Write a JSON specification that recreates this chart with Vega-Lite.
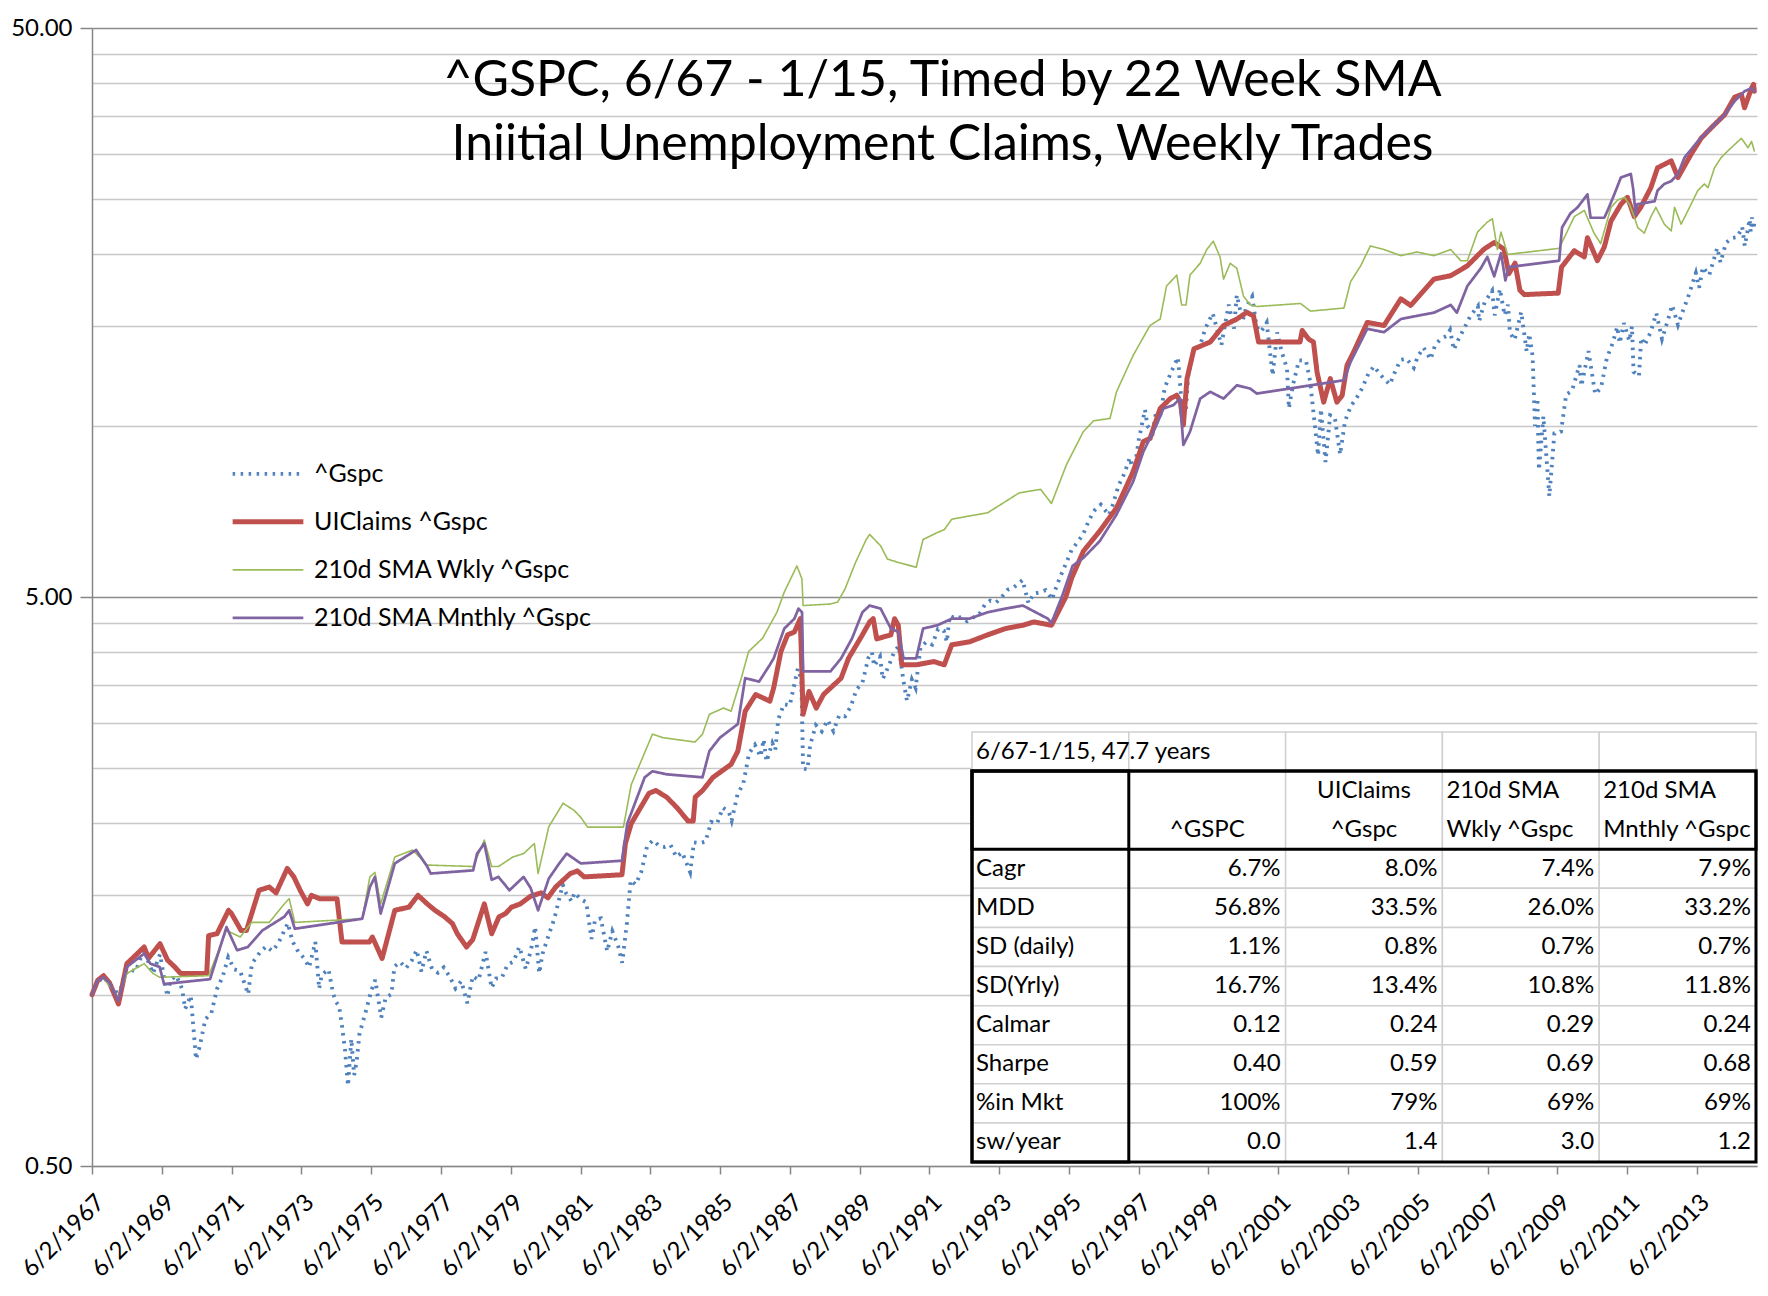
{
"$schema": "https://vega.github.io/schema/vega-lite/v6.json",
"width": 1665, "height": 1138,
"autosize": {"type": "none"},
"padding": {"left": 92, "top": 28, "right": 11, "bottom": 130},
"background": "white",
"config": {"view": {"stroke": null}, "font": "Lato"},
"title": {"text": ["^GSPC, 6/67 - 1/15, Timed by  22 Week SMA", "Iniitial Unemployment Claims, Weekly Trades"], "font": "Lato", "fontSize": 50, "fontWeight": "normal", "color": "#000000", "anchor": "middle", "frame": "group", "offset": -154, "dx": 18, "lineHeight": 64},
"datasets": {
"lines": [
{"s":"^Gspc","d":"1967-06-02","v":1.0},{"s":"^Gspc","d":"1967-08-01","v":1.053},{"s":"^Gspc","d":"1967-10-01","v":1.074},{"s":"^Gspc","d":"1967-12-01","v":1.044},{"s":"^Gspc","d":"1968-02-01","v":1.024},{"s":"^Gspc","d":"1968-03-05","v":0.974},{"s":"^Gspc","d":"1968-05-01","v":1.083},{"s":"^Gspc","d":"1968-07-01","v":1.107},{"s":"^Gspc","d":"1968-09-01","v":1.099},{"s":"^Gspc","d":"1968-11-29","v":1.204},
{"s":"^Gspc","d":"1969-01-02","v":1.154},{"s":"^Gspc","d":"1969-03-01","v":1.09},{"s":"^Gspc","d":"1969-05-14","v":1.178},{"s":"^Gspc","d":"1969-07-29","v":0.994},{"s":"^Gspc","d":"1969-09-01","v":1.061},{"s":"^Gspc","d":"1969-11-01","v":1.08},{"s":"^Gspc","d":"1970-01-01","v":1.023},{"s":"^Gspc","d":"1970-02-01","v":0.944},{"s":"^Gspc","d":"1970-04-01","v":0.996},{"s":"^Gspc","d":"1970-05-26","v":0.77},
{"s":"^Gspc","d":"1970-07-01","v":0.808},{"s":"^Gspc","d":"1970-09-01","v":0.906},{"s":"^Gspc","d":"1970-11-01","v":0.926},{"s":"^Gspc","d":"1971-01-01","v":1.024},{"s":"^Gspc","d":"1971-03-01","v":1.076},{"s":"^Gspc","d":"1971-04-28","v":1.164},{"s":"^Gspc","d":"1971-07-01","v":1.108},{"s":"^Gspc","d":"1971-09-01","v":1.1},{"s":"^Gspc","d":"1971-11-23","v":1.002},{"s":"^Gspc","d":"1972-01-01","v":1.134},
{"s":"^Gspc","d":"1972-04-01","v":1.191},{"s":"^Gspc","d":"1972-06-01","v":1.217},{"s":"^Gspc","d":"1972-08-01","v":1.193},{"s":"^Gspc","d":"1972-10-01","v":1.229},{"s":"^Gspc","d":"1973-01-11","v":1.336},{"s":"^Gspc","d":"1973-03-01","v":1.241},{"s":"^Gspc","d":"1973-05-01","v":1.189},{"s":"^Gspc","d":"1973-07-01","v":1.159},{"s":"^Gspc","d":"1973-08-22","v":1.117},{"s":"^Gspc","d":"1973-10-26","v":1.238},
{"s":"^Gspc","d":"1973-12-05","v":1.024},{"s":"^Gspc","d":"1974-01-01","v":1.084},{"s":"^Gspc","d":"1974-03-13","v":1.108},{"s":"^Gspc","d":"1974-05-01","v":1.003},{"s":"^Gspc","d":"1974-06-01","v":0.97},{"s":"^Gspc","d":"1974-07-01","v":0.956},{"s":"^Gspc","d":"1974-08-01","v":0.881},{"s":"^Gspc","d":"1974-09-01","v":0.802},{"s":"^Gspc","d":"1974-10-03","v":0.692},{"s":"^Gspc","d":"1974-11-07","v":0.836},
{"s":"^Gspc","d":"1974-12-06","v":0.722},{"s":"^Gspc","d":"1975-01-01","v":0.762},{"s":"^Gspc","d":"1975-02-01","v":0.856},{"s":"^Gspc","d":"1975-04-01","v":0.926},{"s":"^Gspc","d":"1975-06-01","v":1.013},{"s":"^Gspc","d":"1975-07-15","v":1.062},{"s":"^Gspc","d":"1975-09-16","v":0.912},{"s":"^Gspc","d":"1975-11-01","v":0.989},{"s":"^Gspc","d":"1976-01-01","v":1.002},{"s":"^Gspc","d":"1976-02-01","v":1.121},
{"s":"^Gspc","d":"1976-04-01","v":1.142},{"s":"^Gspc","d":"1976-06-01","v":1.113},{"s":"^Gspc","d":"1976-08-01","v":1.149},{"s":"^Gspc","d":"1976-09-21","v":1.198},{"s":"^Gspc","d":"1976-11-10","v":1.098},{"s":"^Gspc","d":"1977-01-01","v":1.194},{"s":"^Gspc","d":"1977-03-01","v":1.109},{"s":"^Gspc","d":"1977-05-01","v":1.093},{"s":"^Gspc","d":"1977-07-01","v":1.117},{"s":"^Gspc","d":"1977-09-01","v":1.076},
{"s":"^Gspc","d":"1977-11-01","v":1.026},{"s":"^Gspc","d":"1978-01-01","v":1.057},{"s":"^Gspc","d":"1978-03-06","v":0.966},{"s":"^Gspc","d":"1978-05-01","v":1.078},{"s":"^Gspc","d":"1978-07-01","v":1.061},{"s":"^Gspc","d":"1978-09-12","v":1.189},{"s":"^Gspc","d":"1978-11-14","v":1.028},{"s":"^Gspc","d":"1979-01-01","v":1.068},{"s":"^Gspc","d":"1979-03-01","v":1.07},{"s":"^Gspc","d":"1979-05-01","v":1.131},
{"s":"^Gspc","d":"1979-07-01","v":1.143},{"s":"^Gspc","d":"1979-09-01","v":1.214},{"s":"^Gspc","d":"1979-11-07","v":1.11},{"s":"^Gspc","d":"1980-01-01","v":1.199},{"s":"^Gspc","d":"1980-02-13","v":1.316},{"s":"^Gspc","d":"1980-03-27","v":1.091},{"s":"^Gspc","d":"1980-05-01","v":1.181},{"s":"^Gspc","d":"1980-07-01","v":1.269},{"s":"^Gspc","d":"1980-09-01","v":1.36},{"s":"^Gspc","d":"1980-11-28","v":1.561},
{"s":"^Gspc","d":"1981-01-01","v":1.509},{"s":"^Gspc","d":"1981-03-01","v":1.459},{"s":"^Gspc","d":"1981-04-01","v":1.511},{"s":"^Gspc","d":"1981-06-01","v":1.473},{"s":"^Gspc","d":"1981-08-01","v":1.454},{"s":"^Gspc","d":"1981-09-25","v":1.253},{"s":"^Gspc","d":"1981-11-01","v":1.354},{"s":"^Gspc","d":"1982-01-01","v":1.362},{"s":"^Gspc","d":"1982-03-08","v":1.192},{"s":"^Gspc","d":"1982-05-01","v":1.293},
{"s":"^Gspc","d":"1982-07-01","v":1.218},{"s":"^Gspc","d":"1982-08-12","v":1.138},{"s":"^Gspc","d":"1982-10-01","v":1.338},{"s":"^Gspc","d":"1982-11-09","v":1.589},{"s":"^Gspc","d":"1983-01-01","v":1.562},{"s":"^Gspc","d":"1983-03-01","v":1.646},{"s":"^Gspc","d":"1983-05-01","v":1.827},{"s":"^Gspc","d":"1983-07-01","v":1.868},{"s":"^Gspc","d":"1983-09-01","v":1.827},{"s":"^Gspc","d":"1983-11-01","v":1.818},
{"s":"^Gspc","d":"1984-01-01","v":1.832},{"s":"^Gspc","d":"1984-03-01","v":1.746},{"s":"^Gspc","d":"1984-05-01","v":1.779},{"s":"^Gspc","d":"1984-07-24","v":1.642},{"s":"^Gspc","d":"1984-09-01","v":1.852},{"s":"^Gspc","d":"1984-11-01","v":1.846},{"s":"^Gspc","d":"1985-01-01","v":1.858},{"s":"^Gspc","d":"1985-03-01","v":2.013},{"s":"^Gspc","d":"1985-05-01","v":1.998},{"s":"^Gspc","d":"1985-07-01","v":2.132},
{"s":"^Gspc","d":"1985-09-01","v":2.096},{"s":"^Gspc","d":"1985-10-01","v":2.023},{"s":"^Gspc","d":"1985-12-01","v":2.247},{"s":"^Gspc","d":"1986-02-01","v":2.353},{"s":"^Gspc","d":"1986-04-01","v":2.654},{"s":"^Gspc","d":"1986-06-01","v":2.749},{"s":"^Gspc","d":"1986-07-31","v":2.623},{"s":"^Gspc","d":"1986-09-01","v":2.81},{"s":"^Gspc","d":"1986-10-01","v":2.57},{"s":"^Gspc","d":"1986-12-01","v":2.769},
{"s":"^Gspc","d":"1987-01-01","v":2.691},{"s":"^Gspc","d":"1987-02-01","v":3.046},{"s":"^Gspc","d":"1987-04-01","v":3.241},{"s":"^Gspc","d":"1987-06-01","v":3.223},{"s":"^Gspc","d":"1987-08-25","v":3.742},{"s":"^Gspc","d":"1987-10-01","v":3.576},{"s":"^Gspc","d":"1987-10-19","v":2.498},{"s":"^Gspc","d":"1987-12-04","v":2.488},{"s":"^Gspc","d":"1988-01-01","v":2.746},{"s":"^Gspc","d":"1988-03-01","v":2.976},
{"s":"^Gspc","d":"1988-05-01","v":2.903},{"s":"^Gspc","d":"1988-07-01","v":3.039},{"s":"^Gspc","d":"1988-09-01","v":2.906},{"s":"^Gspc","d":"1988-11-01","v":3.1},{"s":"^Gspc","d":"1989-01-01","v":3.086},{"s":"^Gspc","d":"1989-03-01","v":3.21},{"s":"^Gspc","d":"1989-05-01","v":3.44},{"s":"^Gspc","d":"1989-07-01","v":3.533},{"s":"^Gspc","d":"1989-09-01","v":3.906},{"s":"^Gspc","d":"1989-10-09","v":3.998},
{"s":"^Gspc","d":"1989-11-01","v":3.782},{"s":"^Gspc","d":"1990-01-01","v":3.927},{"s":"^Gspc","d":"1990-01-30","v":3.589},{"s":"^Gspc","d":"1990-04-01","v":3.777},{"s":"^Gspc","d":"1990-06-01","v":4.013},{"s":"^Gspc","d":"1990-07-16","v":4.099},{"s":"^Gspc","d":"1990-09-01","v":3.584},{"s":"^Gspc","d":"1990-10-11","v":3.283},{"s":"^Gspc","d":"1990-12-01","v":3.58},{"s":"^Gspc","d":"1991-01-09","v":3.461},
{"s":"^Gspc","d":"1991-03-01","v":4.079},{"s":"^Gspc","d":"1991-05-01","v":4.17},{"s":"^Gspc","d":"1991-07-01","v":4.124},{"s":"^Gspc","d":"1991-09-01","v":4.393},{"s":"^Gspc","d":"1991-11-01","v":4.361},{"s":"^Gspc","d":"1991-12-02","v":4.169},{"s":"^Gspc","d":"1992-01-01","v":4.634},{"s":"^Gspc","d":"1992-03-01","v":4.586},{"s":"^Gspc","d":"1992-05-01","v":4.611},{"s":"^Gspc","d":"1992-07-01","v":4.534},
{"s":"^Gspc","d":"1992-09-01","v":4.6},{"s":"^Gspc","d":"1992-11-01","v":4.652},{"s":"^Gspc","d":"1993-01-01","v":4.841},{"s":"^Gspc","d":"1993-03-01","v":4.927},{"s":"^Gspc","d":"1993-05-01","v":4.891},{"s":"^Gspc","d":"1993-07-01","v":5.006},{"s":"^Gspc","d":"1993-09-01","v":5.151},{"s":"^Gspc","d":"1993-11-01","v":5.198},{"s":"^Gspc","d":"1994-02-02","v":5.356},{"s":"^Gspc","d":"1994-04-04","v":4.877},
{"s":"^Gspc","d":"1994-06-01","v":5.072},{"s":"^Gspc","d":"1994-08-01","v":5.092},{"s":"^Gspc","d":"1994-10-01","v":5.141},{"s":"^Gspc","d":"1994-12-08","v":4.95},{"s":"^Gspc","d":"1995-01-01","v":5.103},{"s":"^Gspc","d":"1995-03-01","v":5.416},{"s":"^Gspc","d":"1995-05-01","v":5.719},{"s":"^Gspc","d":"1995-07-01","v":6.053},{"s":"^Gspc","d":"1995-09-01","v":6.243},{"s":"^Gspc","d":"1995-11-01","v":6.461},
{"s":"^Gspc","d":"1996-01-01","v":6.843},{"s":"^Gspc","d":"1996-03-01","v":7.116},{"s":"^Gspc","d":"1996-05-01","v":7.269},{"s":"^Gspc","d":"1996-07-24","v":6.963},{"s":"^Gspc","d":"1996-09-01","v":7.244},{"s":"^Gspc","d":"1996-11-01","v":7.837},{"s":"^Gspc","d":"1997-01-01","v":8.23},{"s":"^Gspc","d":"1997-03-01","v":8.787},{"s":"^Gspc","d":"1997-04-11","v":8.197},{"s":"^Gspc","d":"1997-06-01","v":9.426},
{"s":"^Gspc","d":"1997-08-06","v":10.67},{"s":"^Gspc","d":"1997-09-01","v":9.994},{"s":"^Gspc","d":"1997-10-27","v":9.744},{"s":"^Gspc","d":"1997-12-01","v":10.616},{"s":"^Gspc","d":"1998-01-09","v":10.308},{"s":"^Gspc","d":"1998-03-01","v":11.659},{"s":"^Gspc","d":"1998-05-01","v":12.353},{"s":"^Gspc","d":"1998-07-17","v":13.186},{"s":"^Gspc","d":"1998-08-31","v":10.637},{"s":"^Gspc","d":"1998-10-08","v":10.66},
{"s":"^Gspc","d":"1998-11-01","v":12.208},{"s":"^Gspc","d":"1999-01-01","v":13.658},{"s":"^Gspc","d":"1999-03-01","v":13.759},{"s":"^Gspc","d":"1999-05-01","v":14.836},{"s":"^Gspc","d":"1999-07-16","v":15.764},{"s":"^Gspc","d":"1999-10-15","v":13.86},{"s":"^Gspc","d":"1999-12-31","v":16.325},{"s":"^Gspc","d":"2000-02-25","v":14.816},{"s":"^Gspc","d":"2000-03-24","v":16.972},{"s":"^Gspc","d":"2000-05-24","v":15.266},
{"s":"^Gspc","d":"2000-07-01","v":16.162},{"s":"^Gspc","d":"2000-09-01","v":16.863},{"s":"^Gspc","d":"2000-10-18","v":14.912},{"s":"^Gspc","d":"2000-12-01","v":14.613},{"s":"^Gspc","d":"2001-01-31","v":15.178},{"s":"^Gspc","d":"2001-04-04","v":12.259},{"s":"^Gspc","d":"2001-05-21","v":14.587},{"s":"^Gspc","d":"2001-07-01","v":13.604},{"s":"^Gspc","d":"2001-09-01","v":12.596},{"s":"^Gspc","d":"2001-09-21","v":10.731},
{"s":"^Gspc","d":"2001-11-01","v":11.776},{"s":"^Gspc","d":"2002-01-04","v":13.028},{"s":"^Gspc","d":"2002-03-19","v":13.003},{"s":"^Gspc","d":"2002-05-01","v":11.966},{"s":"^Gspc","d":"2002-07-23","v":8.863},{"s":"^Gspc","d":"2002-08-22","v":10.697},{"s":"^Gspc","d":"2002-10-09","v":8.631},{"s":"^Gspc","d":"2002-11-27","v":10.432},{"s":"^Gspc","d":"2003-01-14","v":10.352},{"s":"^Gspc","d":"2003-03-11","v":8.897},
{"s":"^Gspc","d":"2003-05-01","v":10.188},{"s":"^Gspc","d":"2003-07-01","v":10.828},{"s":"^Gspc","d":"2003-09-01","v":11.2},{"s":"^Gspc","d":"2003-11-01","v":11.674},{"s":"^Gspc","d":"2004-01-01","v":12.354},{"s":"^Gspc","d":"2004-03-01","v":12.721},{"s":"^Gspc","d":"2004-05-01","v":12.303},{"s":"^Gspc","d":"2004-08-12","v":11.813},{"s":"^Gspc","d":"2004-10-01","v":12.384},{"s":"^Gspc","d":"2004-12-01","v":13.042},
{"s":"^Gspc","d":"2005-02-01","v":13.126},{"s":"^Gspc","d":"2005-04-20","v":12.639},{"s":"^Gspc","d":"2005-06-01","v":13.239},{"s":"^Gspc","d":"2005-08-01","v":13.713},{"s":"^Gspc","d":"2005-10-13","v":13.086},{"s":"^Gspc","d":"2005-12-01","v":13.883},{"s":"^Gspc","d":"2006-02-01","v":14.223},{"s":"^Gspc","d":"2006-04-01","v":14.388},{"s":"^Gspc","d":"2006-05-05","v":14.731},{"s":"^Gspc","d":"2006-06-13","v":13.597},
{"s":"^Gspc","d":"2006-08-01","v":14.186},{"s":"^Gspc","d":"2006-10-01","v":14.843},{"s":"^Gspc","d":"2006-12-01","v":15.562},{"s":"^Gspc","d":"2007-02-20","v":16.219},{"s":"^Gspc","d":"2007-03-05","v":15.268},{"s":"^Gspc","d":"2007-05-01","v":16.471},{"s":"^Gspc","d":"2007-07-19","v":17.257},{"s":"^Gspc","d":"2007-08-15","v":15.63},{"s":"^Gspc","d":"2007-10-09","v":17.391},{"s":"^Gspc","d":"2007-11-26","v":15.636},
{"s":"^Gspc","d":"2008-01-01","v":16.316},{"s":"^Gspc","d":"2008-01-22","v":14.561},{"s":"^Gspc","d":"2008-03-10","v":14.149},{"s":"^Gspc","d":"2008-05-19","v":15.851},{"s":"^Gspc","d":"2008-07-15","v":13.499},{"s":"^Gspc","d":"2008-08-11","v":14.503},{"s":"^Gspc","d":"2008-09-15","v":13.252},{"s":"^Gspc","d":"2008-10-10","v":9.991},{"s":"^Gspc","d":"2008-11-04","v":11.176},{"s":"^Gspc","d":"2008-11-20","v":8.36},
{"s":"^Gspc","d":"2009-01-06","v":10.386},{"s":"^Gspc","d":"2009-03-09","v":7.517},{"s":"^Gspc","d":"2009-05-01","v":9.698},{"s":"^Gspc","d":"2009-07-10","v":9.768},{"s":"^Gspc","d":"2009-09-01","v":11.34},{"s":"^Gspc","d":"2009-11-01","v":11.513},{"s":"^Gspc","d":"2010-01-19","v":12.78},{"s":"^Gspc","d":"2010-02-08","v":11.741},{"s":"^Gspc","d":"2010-04-23","v":13.526},{"s":"^Gspc","d":"2010-07-02","v":11.362},
{"s":"^Gspc","d":"2010-09-01","v":11.659},{"s":"^Gspc","d":"2010-11-01","v":13.148},{"s":"^Gspc","d":"2011-01-01","v":13.973},{"s":"^Gspc","d":"2011-02-18","v":14.922},{"s":"^Gspc","d":"2011-03-16","v":13.966},{"s":"^Gspc","d":"2011-04-29","v":15.151},{"s":"^Gspc","d":"2011-06-24","v":14.094},{"s":"^Gspc","d":"2011-07-22","v":14.944},{"s":"^Gspc","d":"2011-08-08","v":12.439},{"s":"^Gspc","d":"2011-10-03","v":12.213},
{"s":"^Gspc","d":"2011-10-27","v":14.273},{"s":"^Gspc","d":"2011-12-01","v":13.856},{"s":"^Gspc","d":"2012-02-01","v":14.582},{"s":"^Gspc","d":"2012-04-02","v":15.767},{"s":"^Gspc","d":"2012-06-01","v":14.2},{"s":"^Gspc","d":"2012-08-01","v":15.326},{"s":"^Gspc","d":"2012-09-14","v":16.287},{"s":"^Gspc","d":"2012-11-15","v":15.037},{"s":"^Gspc","d":"2013-01-01","v":15.847},{"s":"^Gspc","d":"2013-03-01","v":16.83},
{"s":"^Gspc","d":"2013-05-21","v":18.547},{"s":"^Gspc","d":"2013-06-24","v":17.479},{"s":"^Gspc","d":"2013-08-02","v":18.997},{"s":"^Gspc","d":"2013-10-08","v":18.394},{"s":"^Gspc","d":"2013-12-31","v":20.538},{"s":"^Gspc","d":"2014-02-03","v":19.354},{"s":"^Gspc","d":"2014-04-01","v":20.95},{"s":"^Gspc","d":"2014-06-01","v":21.373},{"s":"^Gspc","d":"2014-07-31","v":21.452},{"s":"^Gspc","d":"2014-09-18","v":22.349},
{"s":"^Gspc","d":"2014-10-15","v":20.694},{"s":"^Gspc","d":"2014-12-05","v":23.06},{"s":"^Gspc","d":"2014-12-16","v":21.919},{"s":"^Gspc","d":"2014-12-29","v":23.229},{"s":"^Gspc","d":"2015-01-15","v":22.141},{"s":"^Gspc","d":"2015-01-23","v":22.798},

{"s":"UIClaims ^Gspc","d":"1967-06-02","v":1.0},{"s":"UIClaims ^Gspc","d":"1967-08-01","v":1.06},{"s":"UIClaims ^Gspc","d":"1967-10-01","v":1.08},{"s":"UIClaims ^Gspc","d":"1967-12-01","v":1.05},{"s":"UIClaims ^Gspc","d":"1968-03-05","v":0.963},{"s":"UIClaims ^Gspc","d":"1968-06-01","v":1.134},{"s":"UIClaims ^Gspc","d":"1968-11-29","v":1.213},{"s":"UIClaims ^Gspc","d":"1969-01-15","v":1.16},{"s":"UIClaims ^Gspc","d":"1969-05-14","v":1.229},{"s":"UIClaims ^Gspc","d":"1969-08-01","v":1.15},
{"s":"UIClaims ^Gspc","d":"1969-10-15","v":1.119},{"s":"UIClaims ^Gspc","d":"1969-12-15","v":1.09},{"s":"UIClaims ^Gspc","d":"1970-09-15","v":1.09},{"s":"UIClaims ^Gspc","d":"1970-10-05","v":1.27},{"s":"UIClaims ^Gspc","d":"1971-01-01","v":1.28},{"s":"UIClaims ^Gspc","d":"1971-05-01","v":1.407},{"s":"UIClaims ^Gspc","d":"1971-06-01","v":1.389},{"s":"UIClaims ^Gspc","d":"1971-09-10","v":1.297},{"s":"UIClaims ^Gspc","d":"1971-11-05","v":1.297},{"s":"UIClaims ^Gspc","d":"1972-03-15","v":1.526},
{"s":"UIClaims ^Gspc","d":"1972-07-01","v":1.546},{"s":"UIClaims ^Gspc","d":"1972-09-10","v":1.51},{"s":"UIClaims ^Gspc","d":"1973-01-05","v":1.667},{"s":"UIClaims ^Gspc","d":"1973-03-15","v":1.611},{"s":"UIClaims ^Gspc","d":"1973-05-20","v":1.526},{"s":"UIClaims ^Gspc","d":"1973-08-05","v":1.444},{"s":"UIClaims ^Gspc","d":"1973-09-15","v":1.495},{"s":"UIClaims ^Gspc","d":"1973-12-10","v":1.475},{"s":"UIClaims ^Gspc","d":"1974-06-10","v":1.475},{"s":"UIClaims ^Gspc","d":"1974-08-01","v":1.238},
{"s":"UIClaims ^Gspc","d":"1975-05-15","v":1.238},{"s":"UIClaims ^Gspc","d":"1975-06-15","v":1.263},{"s":"UIClaims ^Gspc","d":"1975-09-25","v":1.158},{"s":"UIClaims ^Gspc","d":"1976-02-05","v":1.407},{"s":"UIClaims ^Gspc","d":"1976-07-01","v":1.425},{"s":"UIClaims ^Gspc","d":"1976-10-05","v":1.495},{"s":"UIClaims ^Gspc","d":"1977-01-10","v":1.444},{"s":"UIClaims ^Gspc","d":"1977-04-01","v":1.407},{"s":"UIClaims ^Gspc","d":"1977-07-10","v":1.371},{"s":"UIClaims ^Gspc","d":"1977-10-01","v":1.333},
{"s":"UIClaims ^Gspc","d":"1977-11-20","v":1.28},{"s":"UIClaims ^Gspc","d":"1978-02-25","v":1.213},{"s":"UIClaims ^Gspc","d":"1978-05-01","v":1.25},{"s":"UIClaims ^Gspc","d":"1978-08-30","v":1.444},{"s":"UIClaims ^Gspc","d":"1978-11-15","v":1.28},{"s":"UIClaims ^Gspc","d":"1979-01-30","v":1.37},{"s":"UIClaims ^Gspc","d":"1979-04-10","v":1.389},{"s":"UIClaims ^Gspc","d":"1979-06-10","v":1.425},{"s":"UIClaims ^Gspc","d":"1979-09-10","v":1.444},{"s":"UIClaims ^Gspc","d":"1979-12-28","v":1.49},
{"s":"UIClaims ^Gspc","d":"1980-04-15","v":1.51},{"s":"UIClaims ^Gspc","d":"1980-06-25","v":1.48},{"s":"UIClaims ^Gspc","d":"1980-09-15","v":1.546},{"s":"UIClaims ^Gspc","d":"1981-02-15","v":1.633},{"s":"UIClaims ^Gspc","d":"1981-05-01","v":1.65},{"s":"UIClaims ^Gspc","d":"1981-07-10","v":1.611},{"s":"UIClaims ^Gspc","d":"1982-08-10","v":1.625},{"s":"UIClaims ^Gspc","d":"1982-09-15","v":1.845},{"s":"UIClaims ^Gspc","d":"1982-11-15","v":1.999},{"s":"UIClaims ^Gspc","d":"1983-05-20","v":2.26},
{"s":"UIClaims ^Gspc","d":"1983-07-30","v":2.285},{"s":"UIClaims ^Gspc","d":"1983-11-20","v":2.225},{"s":"UIClaims ^Gspc","d":"1984-03-10","v":2.13},{"s":"UIClaims ^Gspc","d":"1984-07-01","v":2.02},{"s":"UIClaims ^Gspc","d":"1984-08-25","v":2.02},{"s":"UIClaims ^Gspc","d":"1984-09-15","v":2.225},{"s":"UIClaims ^Gspc","d":"1984-12-01","v":2.285},{"s":"UIClaims ^Gspc","d":"1985-03-20","v":2.41},{"s":"UIClaims ^Gspc","d":"1985-09-25","v":2.54},{"s":"UIClaims ^Gspc","d":"1985-12-05","v":2.68},
{"s":"UIClaims ^Gspc","d":"1986-02-20","v":3.15},{"s":"UIClaims ^Gspc","d":"1986-06-10","v":3.37},{"s":"UIClaims ^Gspc","d":"1986-11-05","v":3.28},{"s":"UIClaims ^Gspc","d":"1986-12-15","v":3.46},{"s":"UIClaims ^Gspc","d":"1987-03-01","v":4.01},{"s":"UIClaims ^Gspc","d":"1987-05-10","v":4.29},{"s":"UIClaims ^Gspc","d":"1987-07-20","v":4.34},{"s":"UIClaims ^Gspc","d":"1987-09-20","v":4.58},{"s":"UIClaims ^Gspc","d":"1987-10-19","v":3.11},{"s":"UIClaims ^Gspc","d":"1987-12-20","v":3.41},
{"s":"UIClaims ^Gspc","d":"1988-03-05","v":3.19},{"s":"UIClaims ^Gspc","d":"1988-05-20","v":3.37},{"s":"UIClaims ^Gspc","d":"1988-09-10","v":3.51},{"s":"UIClaims ^Gspc","d":"1988-11-20","v":3.6},{"s":"UIClaims ^Gspc","d":"1989-02-05","v":3.9},{"s":"UIClaims ^Gspc","d":"1989-07-01","v":4.29},{"s":"UIClaims ^Gspc","d":"1989-09-15","v":4.52},{"s":"UIClaims ^Gspc","d":"1989-10-22","v":4.58},{"s":"UIClaims ^Gspc","d":"1989-11-28","v":4.22},{"s":"UIClaims ^Gspc","d":"1990-04-25","v":4.29},
{"s":"UIClaims ^Gspc","d":"1990-06-03","v":4.58},{"s":"UIClaims ^Gspc","d":"1990-07-12","v":4.46},{"s":"UIClaims ^Gspc","d":"1990-08-17","v":3.8},{"s":"UIClaims ^Gspc","d":"1991-01-15","v":3.8},{"s":"UIClaims ^Gspc","d":"1991-07-20","v":3.85},{"s":"UIClaims ^Gspc","d":"1991-11-05","v":3.8},{"s":"UIClaims ^Gspc","d":"1992-01-22","v":4.12},{"s":"UIClaims ^Gspc","d":"1992-07-25","v":4.17},{"s":"UIClaims ^Gspc","d":"1993-02-01","v":4.29},{"s":"UIClaims ^Gspc","d":"1993-08-05","v":4.4},
{"s":"UIClaims ^Gspc","d":"1994-02-05","v":4.46},{"s":"UIClaims ^Gspc","d":"1994-05-30","v":4.52},{"s":"UIClaims ^Gspc","d":"1994-12-01","v":4.46},{"s":"UIClaims ^Gspc","d":"1995-04-30","v":5.0},{"s":"UIClaims ^Gspc","d":"1995-07-01","v":5.4},{"s":"UIClaims ^Gspc","d":"1995-11-01","v":6.02},{"s":"UIClaims ^Gspc","d":"1996-04-20","v":6.53},{"s":"UIClaims ^Gspc","d":"1996-10-12","v":7.17},{"s":"UIClaims ^Gspc","d":"1997-04-05","v":8.31},{"s":"UIClaims ^Gspc","d":"1997-07-20","v":9.38},
{"s":"UIClaims ^Gspc","d":"1997-09-28","v":9.5},{"s":"UIClaims ^Gspc","d":"1998-01-12","v":10.72},{"s":"UIClaims ^Gspc","d":"1998-04-28","v":11.16},{"s":"UIClaims ^Gspc","d":"1998-07-05","v":11.31},{"s":"UIClaims ^Gspc","d":"1998-08-12","v":11.0},{"s":"UIClaims ^Gspc","d":"1998-09-12","v":10.03},{"s":"UIClaims ^Gspc","d":"1998-10-20","v":12.1},{"s":"UIClaims ^Gspc","d":"1999-01-01","v":13.65},{"s":"UIClaims ^Gspc","d":"1999-06-20","v":14.03},{"s":"UIClaims ^Gspc","d":"1999-11-07","v":15.0},
{"s":"UIClaims ^Gspc","d":"2000-03-25","v":15.4},{"s":"UIClaims ^Gspc","d":"2000-07-08","v":15.82},{"s":"UIClaims ^Gspc","d":"2000-09-15","v":15.6},{"s":"UIClaims ^Gspc","d":"2000-11-07","v":14.03},{"s":"UIClaims ^Gspc","d":"2002-01-15","v":14.03},{"s":"UIClaims ^Gspc","d":"2002-02-07","v":14.7},{"s":"UIClaims ^Gspc","d":"2002-04-15","v":14.2},{"s":"UIClaims ^Gspc","d":"2002-06-05","v":14.03},{"s":"UIClaims ^Gspc","d":"2002-07-12","v":12.43},{"s":"UIClaims ^Gspc","d":"2002-09-20","v":11.0},
{"s":"UIClaims ^Gspc","d":"2002-11-28","v":12.1},{"s":"UIClaims ^Gspc","d":"2003-02-05","v":11.0},{"s":"UIClaims ^Gspc","d":"2003-04-01","v":11.3},{"s":"UIClaims ^Gspc","d":"2003-05-22","v":12.77},{"s":"UIClaims ^Gspc","d":"2003-07-30","v":13.47},{"s":"UIClaims ^Gspc","d":"2003-12-20","v":15.19},{"s":"UIClaims ^Gspc","d":"2004-06-12","v":15.0},{"s":"UIClaims ^Gspc","d":"2004-12-06","v":16.71},{"s":"UIClaims ^Gspc","d":"2005-03-18","v":16.27},{"s":"UIClaims ^Gspc","d":"2005-11-17","v":18.1},
{"s":"UIClaims ^Gspc","d":"2006-05-12","v":18.35},{"s":"UIClaims ^Gspc","d":"2006-11-02","v":19.1},{"s":"UIClaims ^Gspc","d":"2007-04-25","v":20.43},{"s":"UIClaims ^Gspc","d":"2007-08-10","v":20.99},{"s":"UIClaims ^Gspc","d":"2007-11-20","v":20.43},{"s":"UIClaims ^Gspc","d":"2008-01-10","v":18.5},{"s":"UIClaims ^Gspc","d":"2008-03-15","v":19.3},{"s":"UIClaims ^Gspc","d":"2008-05-05","v":17.3},{"s":"UIClaims ^Gspc","d":"2008-06-20","v":17.0},{"s":"UIClaims ^Gspc","d":"2009-06-10","v":17.1},
{"s":"UIClaims ^Gspc","d":"2009-07-15","v":19.0},{"s":"UIClaims ^Gspc","d":"2009-11-25","v":20.3},{"s":"UIClaims ^Gspc","d":"2010-03-10","v":19.8},{"s":"UIClaims ^Gspc","d":"2010-04-12","v":21.4},{"s":"UIClaims ^Gspc","d":"2010-07-25","v":19.5},{"s":"UIClaims ^Gspc","d":"2010-10-05","v":20.6},{"s":"UIClaims ^Gspc","d":"2010-12-15","v":22.9},{"s":"UIClaims ^Gspc","d":"2011-03-28","v":24.5},{"s":"UIClaims ^Gspc","d":"2011-06-05","v":25.2},{"s":"UIClaims ^Gspc","d":"2011-08-15","v":23.3},
{"s":"UIClaims ^Gspc","d":"2011-10-22","v":24.2},{"s":"UIClaims ^Gspc","d":"2012-02-05","v":26.2},{"s":"UIClaims ^Gspc","d":"2012-04-15","v":28.4},{"s":"UIClaims ^Gspc","d":"2012-09-05","v":29.2},{"s":"UIClaims ^Gspc","d":"2012-11-15","v":27.3},{"s":"UIClaims ^Gspc","d":"2013-04-01","v":30.0},{"s":"UIClaims ^Gspc","d":"2013-07-15","v":32.0},{"s":"UIClaims ^Gspc","d":"2013-10-30","v":33.4},{"s":"UIClaims ^Gspc","d":"2014-03-18","v":35.2},{"s":"UIClaims ^Gspc","d":"2014-07-01","v":37.8},
{"s":"UIClaims ^Gspc","d":"2014-09-10","v":38.2},{"s":"UIClaims ^Gspc","d":"2014-10-12","v":36.2},{"s":"UIClaims ^Gspc","d":"2014-12-25","v":39.2},{"s":"UIClaims ^Gspc","d":"2015-01-15","v":39.8},{"s":"UIClaims ^Gspc","d":"2015-01-23","v":38.7},

{"s":"210d SMA Wkly ^Gspc","d":"1967-06-02","v":1.0},{"s":"210d SMA Wkly ^Gspc","d":"1967-08-01","v":1.058},{"s":"210d SMA Wkly ^Gspc","d":"1967-10-01","v":1.07},{"s":"210d SMA Wkly ^Gspc","d":"1968-03-05","v":0.99},{"s":"210d SMA Wkly ^Gspc","d":"1968-06-01","v":1.09},{"s":"210d SMA Wkly ^Gspc","d":"1968-11-29","v":1.134},{"s":"210d SMA Wkly ^Gspc","d":"1969-03-01","v":1.09},{"s":"210d SMA Wkly ^Gspc","d":"1969-05-10","v":1.073},{"s":"210d SMA Wkly ^Gspc","d":"1970-10-05","v":1.08},{"s":"210d SMA Wkly ^Gspc","d":"1971-04-10","v":1.297},
{"s":"210d SMA Wkly ^Gspc","d":"1971-09-01","v":1.263},{"s":"210d SMA Wkly ^Gspc","d":"1971-12-28","v":1.34},{"s":"210d SMA Wkly ^Gspc","d":"1972-07-01","v":1.34},{"s":"210d SMA Wkly ^Gspc","d":"1972-12-05","v":1.444},{"s":"210d SMA Wkly ^Gspc","d":"1973-01-25","v":1.475},{"s":"210d SMA Wkly ^Gspc","d":"1973-03-25","v":1.34},{"s":"210d SMA Wkly ^Gspc","d":"1975-03-01","v":1.36},{"s":"210d SMA Wkly ^Gspc","d":"1975-05-20","v":1.611},{"s":"210d SMA Wkly ^Gspc","d":"1975-07-12","v":1.64},{"s":"210d SMA Wkly ^Gspc","d":"1975-09-10","v":1.444},
{"s":"210d SMA Wkly ^Gspc","d":"1976-02-05","v":1.746},{"s":"210d SMA Wkly ^Gspc","d":"1976-08-10","v":1.796},{"s":"210d SMA Wkly ^Gspc","d":"1977-01-08","v":1.69},{"s":"210d SMA Wkly ^Gspc","d":"1978-05-05","v":1.68},{"s":"210d SMA Wkly ^Gspc","d":"1978-08-30","v":1.87},{"s":"210d SMA Wkly ^Gspc","d":"1978-11-15","v":1.68},{"s":"210d SMA Wkly ^Gspc","d":"1979-01-25","v":1.68},{"s":"210d SMA Wkly ^Gspc","d":"1979-06-25","v":1.746},{"s":"210d SMA Wkly ^Gspc","d":"1979-10-15","v":1.77},{"s":"210d SMA Wkly ^Gspc","d":"1980-02-05","v":1.844},
{"s":"210d SMA Wkly ^Gspc","d":"1980-03-15","v":1.633},{"s":"210d SMA Wkly ^Gspc","d":"1980-07-05","v":1.973},{"s":"210d SMA Wkly ^Gspc","d":"1980-12-01","v":2.17},{"s":"210d SMA Wkly ^Gspc","d":"1981-03-25","v":2.11},{"s":"210d SMA Wkly ^Gspc","d":"1981-06-05","v":2.05},{"s":"210d SMA Wkly ^Gspc","d":"1981-08-15","v":1.97},{"s":"210d SMA Wkly ^Gspc","d":"1982-08-25","v":1.97},{"s":"210d SMA Wkly ^Gspc","d":"1982-11-15","v":2.34},{"s":"210d SMA Wkly ^Gspc","d":"1983-03-01","v":2.58},{"s":"210d SMA Wkly ^Gspc","d":"1983-06-25","v":2.87},
{"s":"210d SMA Wkly ^Gspc","d":"1983-10-12","v":2.83},{"s":"210d SMA Wkly ^Gspc","d":"1984-09-12","v":2.78},{"s":"210d SMA Wkly ^Gspc","d":"1984-11-30","v":2.87},{"s":"210d SMA Wkly ^Gspc","d":"1985-02-10","v":3.11},{"s":"210d SMA Wkly ^Gspc","d":"1985-07-08","v":3.19},{"s":"210d SMA Wkly ^Gspc","d":"1985-09-25","v":3.15},{"s":"210d SMA Wkly ^Gspc","d":"1986-01-10","v":3.6},{"s":"210d SMA Wkly ^Gspc","d":"1986-03-28","v":4.01},{"s":"210d SMA Wkly ^Gspc","d":"1986-08-20","v":4.23},{"s":"210d SMA Wkly ^Gspc","d":"1987-01-18","v":4.7},
{"s":"210d SMA Wkly ^Gspc","d":"1987-04-05","v":5.1},{"s":"210d SMA Wkly ^Gspc","d":"1987-08-15","v":5.67},{"s":"210d SMA Wkly ^Gspc","d":"1987-10-07","v":5.38},{"s":"210d SMA Wkly ^Gspc","d":"1987-10-19","v":4.83},{"s":"210d SMA Wkly ^Gspc","d":"1988-08-01","v":4.86},{"s":"210d SMA Wkly ^Gspc","d":"1988-10-15","v":4.9},{"s":"210d SMA Wkly ^Gspc","d":"1989-01-01","v":5.17},{"s":"210d SMA Wkly ^Gspc","d":"1989-04-20","v":5.75},{"s":"210d SMA Wkly ^Gspc","d":"1989-08-10","v":6.31},{"s":"210d SMA Wkly ^Gspc","d":"1989-09-15","v":6.44},
{"s":"210d SMA Wkly ^Gspc","d":"1990-01-08","v":6.15},{"s":"210d SMA Wkly ^Gspc","d":"1990-03-20","v":5.83},{"s":"210d SMA Wkly ^Gspc","d":"1990-07-12","v":5.75},{"s":"210d SMA Wkly ^Gspc","d":"1991-01-15","v":5.64},{"s":"210d SMA Wkly ^Gspc","d":"1991-03-28","v":6.31},{"s":"210d SMA Wkly ^Gspc","d":"1991-08-25","v":6.49},{"s":"210d SMA Wkly ^Gspc","d":"1991-11-07","v":6.57},{"s":"210d SMA Wkly ^Gspc","d":"1992-01-22","v":6.85},{"s":"210d SMA Wkly ^Gspc","d":"1992-07-25","v":6.94},{"s":"210d SMA Wkly ^Gspc","d":"1993-02-01","v":7.03},
{"s":"210d SMA Wkly ^Gspc","d":"1993-09-10","v":7.42},{"s":"210d SMA Wkly ^Gspc","d":"1993-12-28","v":7.62},{"s":"210d SMA Wkly ^Gspc","d":"1994-08-10","v":7.73},{"s":"210d SMA Wkly ^Gspc","d":"1994-12-01","v":7.3},{"s":"210d SMA Wkly ^Gspc","d":"1995-05-07","v":8.54},{"s":"210d SMA Wkly ^Gspc","d":"1995-10-30","v":9.76},{"s":"210d SMA Wkly ^Gspc","d":"1996-02-15","v":10.2},{"s":"210d SMA Wkly ^Gspc","d":"1996-08-05","v":10.3},{"s":"210d SMA Wkly ^Gspc","d":"1996-10-12","v":11.47},{"s":"210d SMA Wkly ^Gspc","d":"1997-04-05","v":13.3},
{"s":"210d SMA Wkly ^Gspc","d":"1997-09-28","v":15.0},{"s":"210d SMA Wkly ^Gspc","d":"1998-01-12","v":15.4},{"s":"210d SMA Wkly ^Gspc","d":"1998-03-20","v":17.6},{"s":"210d SMA Wkly ^Gspc","d":"1998-07-05","v":18.4},{"s":"210d SMA Wkly ^Gspc","d":"1998-08-25","v":16.3},{"s":"210d SMA Wkly ^Gspc","d":"1998-10-10","v":16.3},{"s":"210d SMA Wkly ^Gspc","d":"1998-11-20","v":18.4},{"s":"210d SMA Wkly ^Gspc","d":"1999-03-07","v":19.3},{"s":"210d SMA Wkly ^Gspc","d":"1999-05-15","v":20.4},{"s":"210d SMA Wkly ^Gspc","d":"1999-07-22","v":21.1},
{"s":"210d SMA Wkly ^Gspc","d":"1999-10-01","v":19.8},{"s":"210d SMA Wkly ^Gspc","d":"1999-11-07","v":18.1},{"s":"210d SMA Wkly ^Gspc","d":"2000-01-15","v":19.3},{"s":"210d SMA Wkly ^Gspc","d":"2000-03-25","v":18.9},{"s":"210d SMA Wkly ^Gspc","d":"2000-06-02","v":16.9},{"s":"210d SMA Wkly ^Gspc","d":"2000-08-12","v":16.3},{"s":"210d SMA Wkly ^Gspc","d":"2000-10-20","v":16.2},{"s":"210d SMA Wkly ^Gspc","d":"2002-01-20","v":16.4},{"s":"210d SMA Wkly ^Gspc","d":"2002-05-05","v":15.9},{"s":"210d SMA Wkly ^Gspc","d":"2003-04-20","v":16.1},
{"s":"210d SMA Wkly ^Gspc","d":"2003-06-28","v":17.9},{"s":"210d SMA Wkly ^Gspc","d":"2003-10-12","v":19.1},{"s":"210d SMA Wkly ^Gspc","d":"2004-01-22","v":20.7},{"s":"210d SMA Wkly ^Gspc","d":"2004-06-12","v":20.4},{"s":"210d SMA Wkly ^Gspc","d":"2004-12-06","v":19.9},{"s":"210d SMA Wkly ^Gspc","d":"2005-05-25","v":20.2},{"s":"210d SMA Wkly ^Gspc","d":"2005-11-17","v":19.9},{"s":"210d SMA Wkly ^Gspc","d":"2006-05-12","v":20.4},{"s":"210d SMA Wkly ^Gspc","d":"2006-08-25","v":19.5},{"s":"210d SMA Wkly ^Gspc","d":"2006-11-02","v":19.5},
{"s":"210d SMA Wkly ^Gspc","d":"2007-02-17","v":21.9},{"s":"210d SMA Wkly ^Gspc","d":"2007-05-30","v":22.8},{"s":"210d SMA Wkly ^Gspc","d":"2007-07-22","v":23.1},{"s":"210d SMA Wkly ^Gspc","d":"2007-09-12","v":20.4},{"s":"210d SMA Wkly ^Gspc","d":"2007-10-20","v":21.9},{"s":"210d SMA Wkly ^Gspc","d":"2007-12-28","v":20.0},{"s":"210d SMA Wkly ^Gspc","d":"2009-06-20","v":20.5},{"s":"210d SMA Wkly ^Gspc","d":"2009-11-25","v":23.3},{"s":"210d SMA Wkly ^Gspc","d":"2010-03-10","v":23.9},{"s":"210d SMA Wkly ^Gspc","d":"2010-06-20","v":21.8},
{"s":"210d SMA Wkly ^Gspc","d":"2010-08-28","v":20.9},{"s":"210d SMA Wkly ^Gspc","d":"2010-12-15","v":24.2},{"s":"210d SMA Wkly ^Gspc","d":"2011-02-20","v":24.9},{"s":"210d SMA Wkly ^Gspc","d":"2011-05-05","v":25.2},{"s":"210d SMA Wkly ^Gspc","d":"2011-06-25","v":24.5},{"s":"210d SMA Wkly ^Gspc","d":"2011-08-15","v":23.3},{"s":"210d SMA Wkly ^Gspc","d":"2011-09-20","v":22.3},{"s":"210d SMA Wkly ^Gspc","d":"2011-11-28","v":21.8},{"s":"210d SMA Wkly ^Gspc","d":"2012-02-05","v":23.3},{"s":"210d SMA Wkly ^Gspc","d":"2012-03-28","v":24.2},
{"s":"210d SMA Wkly ^Gspc","d":"2012-06-25","v":22.6},{"s":"210d SMA Wkly ^Gspc","d":"2012-09-05","v":22.0},{"s":"210d SMA Wkly ^Gspc","d":"2012-10-10","v":24.2},{"s":"210d SMA Wkly ^Gspc","d":"2012-12-18","v":22.6},{"s":"210d SMA Wkly ^Gspc","d":"2013-04-01","v":24.5},{"s":"210d SMA Wkly ^Gspc","d":"2013-06-10","v":25.9},{"s":"210d SMA Wkly ^Gspc","d":"2013-08-18","v":26.6},{"s":"210d SMA Wkly ^Gspc","d":"2013-09-25","v":26.2},{"s":"210d SMA Wkly ^Gspc","d":"2013-12-02","v":28.4},{"s":"210d SMA Wkly ^Gspc","d":"2014-02-10","v":29.6},
{"s":"210d SMA Wkly ^Gspc","d":"2014-04-20","v":30.4},{"s":"210d SMA Wkly ^Gspc","d":"2014-07-01","v":31.2},{"s":"210d SMA Wkly ^Gspc","d":"2014-09-10","v":32.0},{"s":"210d SMA Wkly ^Gspc","d":"2014-11-18","v":30.8},{"s":"210d SMA Wkly ^Gspc","d":"2014-12-25","v":31.6},{"s":"210d SMA Wkly ^Gspc","d":"2015-01-23","v":30.4},

{"s":"210d SMA Mnthly ^Gspc","d":"1967-06-02","v":1.0},{"s":"210d SMA Mnthly ^Gspc","d":"1967-08-01","v":1.06},{"s":"210d SMA Mnthly ^Gspc","d":"1967-10-01","v":1.073},{"s":"210d SMA Mnthly ^Gspc","d":"1967-12-01","v":1.05},{"s":"210d SMA Mnthly ^Gspc","d":"1968-03-05","v":0.976},{"s":"210d SMA Mnthly ^Gspc","d":"1968-06-01","v":1.119},{"s":"210d SMA Mnthly ^Gspc","d":"1968-11-29","v":1.181},{"s":"210d SMA Mnthly ^Gspc","d":"1969-02-01","v":1.134},{"s":"210d SMA Mnthly ^Gspc","d":"1969-05-10","v":1.119},{"s":"210d SMA Mnthly ^Gspc","d":"1969-06-25","v":1.044},
{"s":"210d SMA Mnthly ^Gspc","d":"1970-10-20","v":1.065},{"s":"210d SMA Mnthly ^Gspc","d":"1971-04-10","v":1.315},{"s":"210d SMA Mnthly ^Gspc","d":"1971-07-30","v":1.197},{"s":"210d SMA Mnthly ^Gspc","d":"1971-11-20","v":1.213},{"s":"210d SMA Mnthly ^Gspc","d":"1972-04-20","v":1.297},{"s":"210d SMA Mnthly ^Gspc","d":"1972-12-05","v":1.371},{"s":"210d SMA Mnthly ^Gspc","d":"1973-01-25","v":1.407},{"s":"210d SMA Mnthly ^Gspc","d":"1973-03-25","v":1.306},{"s":"210d SMA Mnthly ^Gspc","d":"1975-03-01","v":1.36},{"s":"210d SMA Mnthly ^Gspc","d":"1975-05-20","v":1.546},
{"s":"210d SMA Mnthly ^Gspc","d":"1975-07-12","v":1.611},{"s":"210d SMA Mnthly ^Gspc","d":"1975-09-10","v":1.389},{"s":"210d SMA Mnthly ^Gspc","d":"1976-02-05","v":1.701},{"s":"210d SMA Mnthly ^Gspc","d":"1976-09-15","v":1.796},{"s":"210d SMA Mnthly ^Gspc","d":"1977-01-08","v":1.681},{"s":"210d SMA Mnthly ^Gspc","d":"1977-02-15","v":1.633},{"s":"210d SMA Mnthly ^Gspc","d":"1978-05-05","v":1.654},{"s":"210d SMA Mnthly ^Gspc","d":"1978-06-15","v":1.77},{"s":"210d SMA Mnthly ^Gspc","d":"1978-08-30","v":1.844},{"s":"210d SMA Mnthly ^Gspc","d":"1978-11-15","v":1.592},
{"s":"210d SMA Mnthly ^Gspc","d":"1979-01-25","v":1.611},{"s":"210d SMA Mnthly ^Gspc","d":"1979-05-20","v":1.526},{"s":"210d SMA Mnthly ^Gspc","d":"1979-10-15","v":1.611},{"s":"210d SMA Mnthly ^Gspc","d":"1979-12-28","v":1.54},{"s":"210d SMA Mnthly ^Gspc","d":"1980-03-15","v":1.407},{"s":"210d SMA Mnthly ^Gspc","d":"1980-07-05","v":1.6},{"s":"210d SMA Mnthly ^Gspc","d":"1980-10-22","v":1.701},{"s":"210d SMA Mnthly ^Gspc","d":"1981-01-08","v":1.77},{"s":"210d SMA Mnthly ^Gspc","d":"1981-06-05","v":1.701},{"s":"210d SMA Mnthly ^Gspc","d":"1982-08-10","v":1.72},
{"s":"210d SMA Mnthly ^Gspc","d":"1982-10-05","v":2.0},{"s":"210d SMA Mnthly ^Gspc","d":"1983-04-05","v":2.41},{"s":"210d SMA Mnthly ^Gspc","d":"1983-06-25","v":2.47},{"s":"210d SMA Mnthly ^Gspc","d":"1983-11-20","v":2.44},{"s":"210d SMA Mnthly ^Gspc","d":"1984-11-30","v":2.41},{"s":"210d SMA Mnthly ^Gspc","d":"1985-02-10","v":2.68},{"s":"210d SMA Mnthly ^Gspc","d":"1985-06-01","v":2.83},{"s":"210d SMA Mnthly ^Gspc","d":"1985-12-05","v":2.99},{"s":"210d SMA Mnthly ^Gspc","d":"1986-02-20","v":3.6},{"s":"210d SMA Mnthly ^Gspc","d":"1986-07-15","v":3.55},
{"s":"210d SMA Mnthly ^Gspc","d":"1986-11-05","v":3.8},{"s":"210d SMA Mnthly ^Gspc","d":"1986-12-15","v":3.9},{"s":"210d SMA Mnthly ^Gspc","d":"1987-04-05","v":4.4},{"s":"210d SMA Mnthly ^Gspc","d":"1987-07-20","v":4.58},{"s":"210d SMA Mnthly ^Gspc","d":"1987-09-01","v":4.77},{"s":"210d SMA Mnthly ^Gspc","d":"1987-10-08","v":4.7},{"s":"210d SMA Mnthly ^Gspc","d":"1987-10-19","v":3.7},{"s":"210d SMA Mnthly ^Gspc","d":"1988-08-01","v":3.7},{"s":"210d SMA Mnthly ^Gspc","d":"1988-11-20","v":3.9},{"s":"210d SMA Mnthly ^Gspc","d":"1989-03-15","v":4.23},
{"s":"210d SMA Mnthly ^Gspc","d":"1989-07-01","v":4.7},{"s":"210d SMA Mnthly ^Gspc","d":"1989-09-15","v":4.83},{"s":"210d SMA Mnthly ^Gspc","d":"1990-01-08","v":4.77},{"s":"210d SMA Mnthly ^Gspc","d":"1990-04-25","v":4.4},{"s":"210d SMA Mnthly ^Gspc","d":"1990-07-12","v":4.34},{"s":"210d SMA Mnthly ^Gspc","d":"1990-09-05","v":3.9},{"s":"210d SMA Mnthly ^Gspc","d":"1991-01-15","v":3.9},{"s":"210d SMA Mnthly ^Gspc","d":"1991-03-28","v":4.4},{"s":"210d SMA Mnthly ^Gspc","d":"1991-08-25","v":4.46},{"s":"210d SMA Mnthly ^Gspc","d":"1992-01-22","v":4.58},
{"s":"210d SMA Mnthly ^Gspc","d":"1992-07-25","v":4.58},{"s":"210d SMA Mnthly ^Gspc","d":"1993-02-01","v":4.7},{"s":"210d SMA Mnthly ^Gspc","d":"1993-08-05","v":4.77},{"s":"210d SMA Mnthly ^Gspc","d":"1994-02-05","v":4.83},{"s":"210d SMA Mnthly ^Gspc","d":"1994-10-25","v":4.58},{"s":"210d SMA Mnthly ^Gspc","d":"1994-12-01","v":4.5},{"s":"210d SMA Mnthly ^Gspc","d":"1995-03-25","v":5.03},{"s":"210d SMA Mnthly ^Gspc","d":"1995-07-10","v":5.67},{"s":"210d SMA Mnthly ^Gspc","d":"1995-11-01","v":5.86},{"s":"210d SMA Mnthly ^Gspc","d":"1996-04-20","v":6.27},
{"s":"210d SMA Mnthly ^Gspc","d":"1996-10-12","v":6.98},{"s":"210d SMA Mnthly ^Gspc","d":"1997-04-05","v":7.98},{"s":"210d SMA Mnthly ^Gspc","d":"1997-07-20","v":9.0},{"s":"210d SMA Mnthly ^Gspc","d":"1997-12-05","v":10.03},{"s":"210d SMA Mnthly ^Gspc","d":"1998-02-15","v":10.72},{"s":"210d SMA Mnthly ^Gspc","d":"1998-06-01","v":10.87},{"s":"210d SMA Mnthly ^Gspc","d":"1998-08-07","v":11.16},{"s":"210d SMA Mnthly ^Gspc","d":"1998-09-12","v":9.25},{"s":"210d SMA Mnthly ^Gspc","d":"1998-11-20","v":9.76},{"s":"210d SMA Mnthly ^Gspc","d":"1999-03-07","v":11.16},
{"s":"210d SMA Mnthly ^Gspc","d":"1999-06-20","v":11.47},{"s":"210d SMA Mnthly ^Gspc","d":"1999-11-07","v":11.16},{"s":"210d SMA Mnthly ^Gspc","d":"2000-03-25","v":11.78},{"s":"210d SMA Mnthly ^Gspc","d":"2000-08-12","v":11.62},{"s":"210d SMA Mnthly ^Gspc","d":"2000-10-20","v":11.39},{"s":"210d SMA Mnthly ^Gspc","d":"2003-04-20","v":12.02},{"s":"210d SMA Mnthly ^Gspc","d":"2003-06-28","v":12.94},{"s":"210d SMA Mnthly ^Gspc","d":"2003-12-20","v":14.8},{"s":"210d SMA Mnthly ^Gspc","d":"2004-06-12","v":14.6},{"s":"210d SMA Mnthly ^Gspc","d":"2004-12-06","v":15.4},
{"s":"210d SMA Mnthly ^Gspc","d":"2005-05-25","v":15.6},{"s":"210d SMA Mnthly ^Gspc","d":"2005-11-17","v":15.8},{"s":"210d SMA Mnthly ^Gspc","d":"2006-05-12","v":16.3},{"s":"210d SMA Mnthly ^Gspc","d":"2006-07-15","v":15.8},{"s":"210d SMA Mnthly ^Gspc","d":"2006-11-02","v":17.6},{"s":"210d SMA Mnthly ^Gspc","d":"2007-03-22","v":18.9},{"s":"210d SMA Mnthly ^Gspc","d":"2007-05-30","v":19.8},{"s":"210d SMA Mnthly ^Gspc","d":"2007-08-10","v":18.3},{"s":"210d SMA Mnthly ^Gspc","d":"2007-10-20","v":20.1},{"s":"210d SMA Mnthly ^Gspc","d":"2007-12-05","v":18.0},
{"s":"210d SMA Mnthly ^Gspc","d":"2008-01-10","v":19.0},{"s":"210d SMA Mnthly ^Gspc","d":"2009-06-20","v":19.5},{"s":"210d SMA Mnthly ^Gspc","d":"2009-07-20","v":22.3},{"s":"210d SMA Mnthly ^Gspc","d":"2009-10-15","v":23.6},{"s":"210d SMA Mnthly ^Gspc","d":"2009-12-30","v":24.2},{"s":"210d SMA Mnthly ^Gspc","d":"2010-04-12","v":25.5},{"s":"210d SMA Mnthly ^Gspc","d":"2010-05-15","v":23.2},{"s":"210d SMA Mnthly ^Gspc","d":"2010-10-05","v":23.2},{"s":"210d SMA Mnthly ^Gspc","d":"2010-11-10","v":23.9},{"s":"210d SMA Mnthly ^Gspc","d":"2011-01-18","v":25.5},
{"s":"210d SMA Mnthly ^Gspc","d":"2011-03-28","v":27.3},{"s":"210d SMA Mnthly ^Gspc","d":"2011-07-10","v":27.7},{"s":"210d SMA Mnthly ^Gspc","d":"2011-08-05","v":26.0},{"s":"210d SMA Mnthly ^Gspc","d":"2011-08-30","v":23.5},{"s":"210d SMA Mnthly ^Gspc","d":"2011-09-15","v":24.5},{"s":"210d SMA Mnthly ^Gspc","d":"2012-03-15","v":24.8},{"s":"210d SMA Mnthly ^Gspc","d":"2012-04-15","v":25.9},{"s":"210d SMA Mnthly ^Gspc","d":"2012-06-25","v":26.6},{"s":"210d SMA Mnthly ^Gspc","d":"2012-09-05","v":26.9},{"s":"210d SMA Mnthly ^Gspc","d":"2012-11-15","v":27.7},
{"s":"210d SMA Mnthly ^Gspc","d":"2013-01-22","v":29.6},{"s":"210d SMA Mnthly ^Gspc","d":"2013-06-10","v":31.6},{"s":"210d SMA Mnthly ^Gspc","d":"2013-10-30","v":33.4},{"s":"210d SMA Mnthly ^Gspc","d":"2014-03-18","v":35.2},{"s":"210d SMA Mnthly ^Gspc","d":"2014-07-01","v":37.2},{"s":"210d SMA Mnthly ^Gspc","d":"2014-10-12","v":38.7},{"s":"210d SMA Mnthly ^Gspc","d":"2014-12-25","v":39.2},{"s":"210d SMA Mnthly ^Gspc","d":"2015-01-23","v":38.7}
],
"cells": [
{"c":"label","r1":["title","hdr1","Cagr","MDD","SD (daily)","SD(Yrly)","Calmar","Sharpe","%in Mkt","sw/year"],"r2":["title","hdr2","Cagr","MDD","SD (daily)","SD(Yrly)","Calmar","Sharpe","%in Mkt","sw/year"]},
{"c":"GSPC","r1":["title","hdr1","Cagr","MDD","SD (daily)","SD(Yrly)","Calmar","Sharpe","%in Mkt","sw/year"],"r2":["title","hdr2","Cagr","MDD","SD (daily)","SD(Yrly)","Calmar","Sharpe","%in Mkt","sw/year"]},
{"c":"UIClaims","r1":["title","hdr1","Cagr","MDD","SD (daily)","SD(Yrly)","Calmar","Sharpe","%in Mkt","sw/year"],"r2":["title","hdr2","Cagr","MDD","SD (daily)","SD(Yrly)","Calmar","Sharpe","%in Mkt","sw/year"]},
{"c":"Wkly","r1":["title","hdr1","Cagr","MDD","SD (daily)","SD(Yrly)","Calmar","Sharpe","%in Mkt","sw/year"],"r2":["title","hdr2","Cagr","MDD","SD (daily)","SD(Yrly)","Calmar","Sharpe","%in Mkt","sw/year"]},
{"c":"Mnthly","r1":["title","hdr1","Cagr","MDD","SD (daily)","SD(Yrly)","Calmar","Sharpe","%in Mkt","sw/year"],"r2":["title","hdr2","Cagr","MDD","SD (daily)","SD(Yrly)","Calmar","Sharpe","%in Mkt","sw/year"]}
],
"boxes": [
{"c1":"label","c2":"Mnthly","r1":"hdr1","r2":"sw/year"},
{"c1":"label","c2":"label","r1":"hdr1","r2":"sw/year"},
{"c1":"label","c2":"Mnthly","r1":"hdr1","r2":"hdr2"}
],
"texts": [
{"c":"label","r":"title","t":"6/67-1/15, 47.7 years"},
{"c":"GSPC","r":"hdr2","t":"^GSPC"},
{"c":"UIClaims","r":"hdr1","t":"UIClaims"},{"c":"UIClaims","r":"hdr2","t":"^Gspc"},
{"c":"Wkly","r":"hdr1","t":"210d SMA"},{"c":"Wkly","r":"hdr2","t":"Wkly ^Gspc"},
{"c":"Mnthly","r":"hdr1","t":"210d SMA"},{"c":"Mnthly","r":"hdr2","t":"Mnthly ^Gspc"},
{"c":"label","r":"Cagr","t":"Cagr"},{"c":"GSPC","r":"Cagr","t":"6.7%"},{"c":"UIClaims","r":"Cagr","t":"8.0%"},{"c":"Wkly","r":"Cagr","t":"7.4%"},{"c":"Mnthly","r":"Cagr","t":"7.9%"},
{"c":"label","r":"MDD","t":"MDD"},{"c":"GSPC","r":"MDD","t":"56.8%"},{"c":"UIClaims","r":"MDD","t":"33.5%"},{"c":"Wkly","r":"MDD","t":"26.0%"},{"c":"Mnthly","r":"MDD","t":"33.2%"},
{"c":"label","r":"SD (daily)","t":"SD (daily)"},{"c":"GSPC","r":"SD (daily)","t":"1.1%"},{"c":"UIClaims","r":"SD (daily)","t":"0.8%"},{"c":"Wkly","r":"SD (daily)","t":"0.7%"},{"c":"Mnthly","r":"SD (daily)","t":"0.7%"},
{"c":"label","r":"SD(Yrly)","t":"SD(Yrly)"},{"c":"GSPC","r":"SD(Yrly)","t":"16.7%"},{"c":"UIClaims","r":"SD(Yrly)","t":"13.4%"},{"c":"Wkly","r":"SD(Yrly)","t":"10.8%"},{"c":"Mnthly","r":"SD(Yrly)","t":"11.8%"},
{"c":"label","r":"Calmar","t":"Calmar"},{"c":"GSPC","r":"Calmar","t":"0.12"},{"c":"UIClaims","r":"Calmar","t":"0.24"},{"c":"Wkly","r":"Calmar","t":"0.29"},{"c":"Mnthly","r":"Calmar","t":"0.24"},
{"c":"label","r":"Sharpe","t":"Sharpe"},{"c":"GSPC","r":"Sharpe","t":"0.40"},{"c":"UIClaims","r":"Sharpe","t":"0.59"},{"c":"Wkly","r":"Sharpe","t":"0.69"},{"c":"Mnthly","r":"Sharpe","t":"0.68"},
{"c":"label","r":"%in Mkt","t":"%in Mkt"},{"c":"GSPC","r":"%in Mkt","t":"100%"},{"c":"UIClaims","r":"%in Mkt","t":"79%"},{"c":"Wkly","r":"%in Mkt","t":"69%"},{"c":"Mnthly","r":"%in Mkt","t":"69%"},
{"c":"label","r":"sw/year","t":"sw/year"},{"c":"GSPC","r":"sw/year","t":"0.0"},{"c":"UIClaims","r":"sw/year","t":"1.4"},{"c":"Wkly","r":"sw/year","t":"3.0"},{"c":"Mnthly","r":"sw/year","t":"1.2"}
]
},
"layer": [
{
"data": {"name": "lines"},
"encoding": {
"x": {"field": "d", "type": "temporal",
 "scale": {"type": "utc", "domain": [{"year":1967,"month":6,"date":2,"utc":true},{"year":2015,"month":2,"date":20,"utc":true}]},
 "axis": {"title": null, "grid": false,
  "values": [{"year":1967,"month":6,"date":2,"utc":true},{"year":1969,"month":6,"date":2,"utc":true},{"year":1971,"month":6,"date":2,"utc":true},{"year":1973,"month":6,"date":2,"utc":true},{"year":1975,"month":6,"date":2,"utc":true},{"year":1977,"month":6,"date":2,"utc":true},{"year":1979,"month":6,"date":2,"utc":true},{"year":1981,"month":6,"date":2,"utc":true},{"year":1983,"month":6,"date":2,"utc":true},{"year":1985,"month":6,"date":2,"utc":true},{"year":1987,"month":6,"date":2,"utc":true},{"year":1989,"month":6,"date":2,"utc":true},{"year":1991,"month":6,"date":2,"utc":true},{"year":1993,"month":6,"date":2,"utc":true},{"year":1995,"month":6,"date":2,"utc":true},{"year":1997,"month":6,"date":2,"utc":true},{"year":1999,"month":6,"date":2,"utc":true},{"year":2001,"month":6,"date":2,"utc":true},{"year":2003,"month":6,"date":2,"utc":true},{"year":2005,"month":6,"date":2,"utc":true},{"year":2007,"month":6,"date":2,"utc":true},{"year":2009,"month":6,"date":2,"utc":true},{"year":2011,"month":6,"date":2,"utc":true},{"year":2013,"month":6,"date":2,"utc":true}],
  "labelExpr": "utcFormat(datum.value, '%-m/%-d/%Y')",
  "labelAngle": -45, "labelAlign": "right", "labelBaseline": "top", "labelPadding": 16,
  "labelFont": "Lato", "labelFontSize": 24, "labelColor": "#000000", "labelOverlap": false, "labelBound": false, "labelFlush": false,
  "tickSize": 8, "tickColor": "#868686", "tickWidth": 1.5, "domainColor": "#868686", "domainWidth": 1.5}},
"y": {"field": "v", "type": "quantitative",
 "scale": {"type": "log", "domain": [0.5, 50], "nice": false},
 "axis": {"title": null,
  "values": [0.5,1,1.5,2,2.5,3,3.5,4,4.5,5,10,15,20,25,30,35,40,45,50],
  "labelExpr": "(datum.value == 0.5 || datum.value == 5 || datum.value == 50) ? format(datum.value, '.2f') : ''",
  "labelFont": "Lato", "labelFontSize": 24, "labelColor": "#000000", "labelOverlap": false, "labelPadding": 8,
  "gridColor": {"condition": {"test": "datum.value == 5 || datum.value == 50", "value": "#8c8c8c"}, "value": "#c8c8c8"},
  "gridWidth": 1.5,
  "tickOpacity": {"condition": {"test": "datum.value == 0.5 || datum.value == 5 || datum.value == 50", "value": 1}, "value": 0},
  "tickSize": 12, "tickColor": "#868686", "tickWidth": 1.5, "domainColor": "#868686", "domainWidth": 1.5}},
"color": {"field": "s", "type": "nominal",
 "scale": {"domain": ["210d SMA Wkly ^Gspc","210d SMA Mnthly ^Gspc","^Gspc","UIClaims ^Gspc"], "range": ["#9BBB59","#8064A2","#4F81BD","#C0504D"]},
 "legend": {"orient": "none", "legendX": 138, "legendY": 422, "title": null, "values": ["^Gspc","UIClaims ^Gspc","210d SMA Wkly ^Gspc","210d SMA Mnthly ^Gspc"], "symbolType": "stroke", "symbolSize": 5000, "labelFont": "Lato", "labelFontSize": 25, "labelColor": "#000000", "labelLimit": 0, "clipHeight": 47.7, "rowPadding": 0, "labelOffset": 8, "padding": 0}},
"strokeDash": {"field": "s", "type": "nominal",
 "scale": {"domain": ["210d SMA Wkly ^Gspc","210d SMA Mnthly ^Gspc","^Gspc","UIClaims ^Gspc"], "range": [[1,0],[1,0],[2.5,5.5],[1,0]]},
 "legend": {"orient": "none", "legendX": 138, "legendY": 422, "title": null, "values": ["^Gspc","UIClaims ^Gspc","210d SMA Wkly ^Gspc","210d SMA Mnthly ^Gspc"], "symbolType": "stroke", "symbolSize": 5000, "labelFont": "Lato", "labelFontSize": 25, "labelColor": "#000000", "labelLimit": 0, "clipHeight": 47.7, "rowPadding": 0, "labelOffset": 8, "padding": 0}},
"strokeWidth": {"field": "s", "type": "nominal",
 "scale": {"type": "point", "padding": 0, "domain": ["210d SMA Wkly ^Gspc","210d SMA Mnthly ^Gspc","^Gspc","UIClaims ^Gspc"], "range": [1.6, 5]},
 "legend": {"orient": "none", "legendX": 138, "legendY": 422, "title": null, "values": ["^Gspc","UIClaims ^Gspc","210d SMA Wkly ^Gspc","210d SMA Mnthly ^Gspc"], "symbolType": "stroke", "symbolSize": 5000, "labelFont": "Lato", "labelFontSize": 25, "labelColor": "#000000", "labelLimit": 0, "clipHeight": 47.7, "rowPadding": 0, "labelOffset": 8, "padding": 0}}
},
"layer": [
{"transform": [{"filter": "datum.s == '^Gspc'"}], "mark": {"type": "line", "strokeCap": "butt"}},
{"transform": [{"filter": "datum.s == 'UIClaims ^Gspc'"}], "mark": {"type": "line", "strokeCap": "round", "strokeJoin": "round"}},
{"transform": [{"filter": "datum.s == '210d SMA Wkly ^Gspc'"}], "mark": {"type": "line", "strokeCap": "round", "strokeJoin": "round"}},
{"transform": [{"filter": "datum.s == '210d SMA Mnthly ^Gspc'"}], "mark": {"type": "line", "strokeCap": "round", "strokeJoin": "round"}}
]
},
{
"layer": [
{"data": {"name": "cells"}, "transform": [{"flatten": ["r1","r2"]}],
 "mark": {"type": "rect", "fill": "#ffffff", "stroke": "#d0d0d0", "strokeWidth": 1.5},
 "encoding": {
  "x": {"field": "c", "type": "nominal", "bandPosition": 0, "scale": {"type": "band", "domain": ["label","GSPC","UIClaims","Wkly","Mnthly"], "range": [880, 1664], "paddingInner": 0, "paddingOuter": 0}, "axis": null},
  "x2": {"field": "c", "bandPosition": 1},
  "y": {"field": "r1", "type": "nominal", "bandPosition": 0, "scale": {"type": "band", "domain": ["title","hdr1","hdr2","Cagr","MDD","SD (daily)","SD(Yrly)","Calmar","Sharpe","%in Mkt","sw/year"], "range": [704, 1134], "paddingInner": 0, "paddingOuter": 0}, "axis": null},
  "y2": {"field": "r2", "bandPosition": 1}}},
{"data": {"name": "boxes"},
 "mark": {"type": "rect", "fillOpacity": 0, "fill": "#ffffff", "stroke": "#000000", "strokeWidth": 3},
 "encoding": {
  "x": {"field": "c1", "type": "nominal", "bandPosition": 0, "axis": null},
  "x2": {"field": "c2", "bandPosition": 1},
  "y": {"field": "r1", "type": "nominal", "bandPosition": 0, "axis": null},
  "y2": {"field": "r2", "bandPosition": 1}}},
{"data": {"name": "texts"},
 "transform": [{"filter": "datum.c == 'label' || ((datum.r == 'hdr1' || datum.r == 'hdr2') && (datum.c == 'Wkly' || datum.c == 'Mnthly'))"}],
 "mark": {"type": "text", "align": "left", "baseline": "middle", "dx": 4, "font": "Lato", "fontSize": 24, "color": "#000000"},
 "encoding": {
  "x": {"field": "c", "type": "nominal", "bandPosition": 0, "axis": null},
  "y": {"field": "r", "type": "nominal", "bandPosition": 0.5, "axis": null},
  "text": {"field": "t"}}},
{"data": {"name": "texts"},
 "transform": [{"filter": "(datum.r == 'hdr1' || datum.r == 'hdr2') && (datum.c == 'GSPC' || datum.c == 'UIClaims')"}],
 "mark": {"type": "text", "align": "center", "baseline": "middle", "font": "Lato", "fontSize": 24, "color": "#000000"},
 "encoding": {
  "x": {"field": "c", "type": "nominal", "bandPosition": 0.5, "axis": null},
  "y": {"field": "r", "type": "nominal", "bandPosition": 0.5, "axis": null},
  "text": {"field": "t"}}},
{"data": {"name": "texts"},
 "transform": [{"filter": "datum.c != 'label' && datum.r != 'hdr1' && datum.r != 'hdr2' && datum.r != 'title'"}],
 "mark": {"type": "text", "align": "right", "baseline": "middle", "dx": -5, "font": "Lato", "fontSize": 24, "color": "#000000"},
 "encoding": {
  "x": {"field": "c", "type": "nominal", "bandPosition": 1, "axis": null},
  "y": {"field": "r", "type": "nominal", "bandPosition": 0.5, "axis": null},
  "text": {"field": "t"}}}
]
}
],
"resolve": {"scale": {"x": "independent", "y": "independent"}}
}
